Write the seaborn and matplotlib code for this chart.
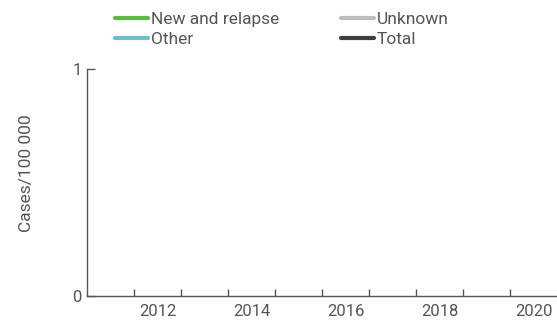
import numpy as np
import pandas as pd
import matplotlib
matplotlib.use("Agg")
import matplotlib.pyplot as plt
import seaborn as sns

# notification rate per 100 000 - no values reported for this country
years = [2011, 2012, 2013, 2014, 2015, 2016, 2017, 2018, 2019, 2020]
new_relapse = []
other = []
unknown = []
total = []

series_names = ["New and relapse", "Other", "Unknown", "Total"]
series_vals = [new_relapse, other, unknown, total]
colors = ["#5db847", "#6cbfc6", "#bcbdc1", "#3f3f3f"]

year_labels = [2012, 2014, 2016, 2018, 2020]
y_ticks = [0, 1]

sns.set_style("ticks")
plt.rcParams["font.family"] = ["Roboto", "DejaVu Sans"]
txt = "#555555"

fig = plt.figure(figsize=(5.57, 3.22), dpi=100)
ax = fig.add_axes([0.1567, 0.0807, 0.8433, 0.705])

for name, vals, c in zip(series_names, series_vals, colors):
    ax.plot(years[:len(vals)], vals, color=c, lw=3, label=name)

ax.set_xlim(2010.5, 2020.5)
ax.set_ylim(0, 1)
ax.set_yticks(y_ticks)
ax.set_yticklabels([str(v) for v in y_ticks])
ax.set_xticks(year_labels)
ax.set_xticklabels([str(y) for y in year_labels])
ax.set_xticks([y + 0.5 for y in years[:-1]], minor=True)
ax.tick_params(axis="x", which="major", length=0, pad=6, labelsize=12, colors=txt)
ax.tick_params(axis="x", which="minor", direction="in", length=5, width=1, color=txt)
ax.tick_params(axis="y", direction="in", length=6, width=1, color=txt,
               labelsize=12, labelcolor=txt, pad=4)

sns.despine(ax=ax)
for s in ["left", "bottom"]:
    ax.spines[s].set_color(txt)
    ax.spines[s].set_linewidth(1)

ax.set_ylabel("Cases/100 000", color=txt, fontsize=12.5)
ax.yaxis.set_label_coords(-0.114, 0.54)

leg = fig.legend(loc="upper left", bbox_to_anchor=(115 / 557, 1 - 12 / 322), ncol=2,
                 frameon=False, fontsize=12.5, handlelength=1.9, handletextpad=0.15,
                 columnspacing=3.6, labelspacing=0.25, borderpad=0, borderaxespad=0)
for t in leg.get_texts():
    t.set_color(txt)

fig.savefig("out.png", dpi=100)
